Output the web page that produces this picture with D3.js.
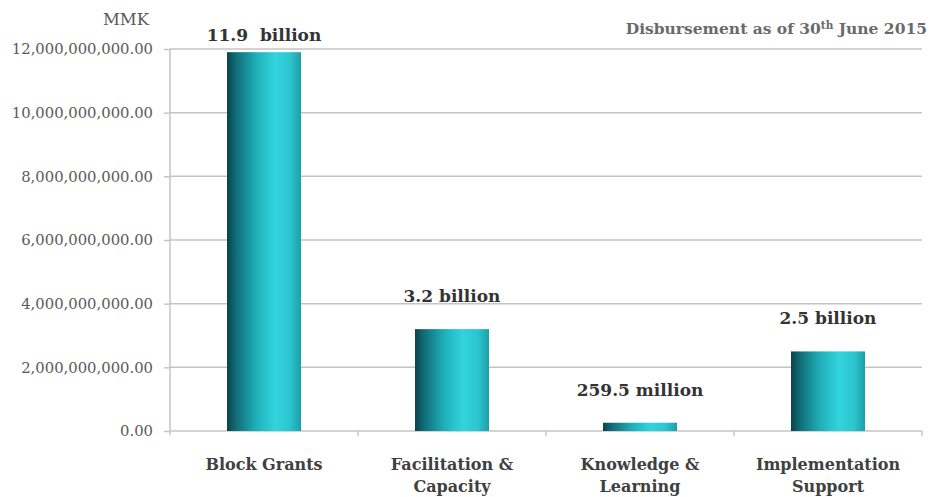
<!DOCTYPE html>
<html>
<head>
<meta charset="utf-8">
<script src="https://cdn.jsdelivr.net/npm/d3@7"></script>
<style>
  html, body { margin: 0; padding: 0; background: #fff; }
  svg { display: block; font-family: "DejaVu Serif", "Liberation Serif", serif; }
</style>
</head>
<body>
<svg id="chart" width="930" height="497"></svg>
<script>
// Disbursement by component (MMK)
const categories = [["Block Grants"], ["Facilitation &", "Capacity"], ["Knowledge &", "Learning"], ["Implementation", "Support"]];
const values = [11.9e9, 3.2e9, 259.5e6, 2.5e9];
const valueLabels = ["11.9  billion", "3.2 billion", "259.5 million", "2.5 billion"];
const yTicks = [0, 2e9, 4e9, 6e9, 8e9, 10e9, 12e9];

const svg = d3.select("#chart");
const plotLeft = 170, plotRight = 922, plotTop = 49, plotBottom = 431;

const keys = categories.map(c => c.join(" "));
const pad = 1 - 74 / 188;
const x = d3.scaleBand().domain(keys).range([plotLeft, plotRight]).paddingInner(pad).paddingOuter(pad / 2);
const y = d3.scaleLinear().domain([0, 12e9]).range([plotBottom, plotTop]);

// bar gradient: dark teal on the left, bright cyan toward the right
const defs = svg.append("defs");
const grad = defs.append("linearGradient").attr("id", "barGrad")
  .attr("x1", "0%").attr("x2", "100%").attr("y1", "0%").attr("y2", "0%");
[["0%", "#0a434b"], ["12%", "#116c76"], ["40%", "#1fb0ba"], ["65%", "#33d4dd"], ["85%", "#2bc5cf"], ["100%", "#1c9fa9"]]
  .forEach(([o, c]) => grad.append("stop").attr("offset", o).attr("stop-color", c));

// gridlines
svg.append("g").selectAll("line").data(yTicks).join("line")
  .attr("x1", plotLeft).attr("x2", plotRight)
  .attr("y1", d => y(d)).attr("y2", d => y(d))
  .attr("stroke", "#c4c4c4").attr("stroke-width", 1.5);

// y axis
const yAxis = svg.append("g").attr("transform", `translate(${plotLeft},0)`)
  .call(d3.axisLeft(y).tickValues(yTicks).tickSize(6).tickPadding(11)
    .tickFormat(d => d3.format(",.2f")(d)));
yAxis.select(".domain").attr("stroke", "#c4c4c4").attr("stroke-width", 1.5)
  .attr("d", `M0,${plotTop}V${plotBottom + 4}`);
yAxis.selectAll(".tick line").attr("stroke", "#c4c4c4").attr("stroke-width", 1.5);
yAxis.selectAll(".tick text").attr("fill", "#5a5a5a").attr("font-size", 14.8)
  .attr("font-family", "DejaVu Serif, serif");

// category boundary ticks on the base line
const bounds = keys.map(k => x(k) - x.step() * pad / 2).concat([plotRight]);
svg.append("g").selectAll("line").data(bounds.slice(1)).join("line")
  .attr("x1", d => d).attr("x2", d => d).attr("y1", plotBottom).attr("y2", plotBottom + 5)
  .attr("stroke", "#c4c4c4").attr("stroke-width", 1.5);

// bars
svg.append("g").selectAll("rect").data(values).join("rect")
  .attr("x", (d, i) => x(keys[i]))
  .attr("width", x.bandwidth())
  .attr("y", d => y(d))
  .attr("height", d => y(0) - y(d))
  .attr("fill", "url(#barGrad)");

// value labels
svg.append("g").selectAll("text").data(values).join("text")
  .attr("x", (d, i) => x(keys[i]) + x.bandwidth() / 2)
  .attr("y", d => Math.max(y(d) - 27, 41))
  .attr("text-anchor", "middle")
  .attr("font-weight", "bold").attr("font-size", 17).attr("fill", "#333")
  .style("white-space", "pre")
  .text((d, i) => valueLabels[i]);

// category labels
const cat = svg.append("g").selectAll("text").data(categories).join("text")
  .attr("x", (d, i) => x(keys[i]) + x.bandwidth() / 2)
  .attr("y", 470)
  .attr("text-anchor", "middle")
  .attr("font-weight", "bold").attr("font-size", 16).attr("fill", "#404040");
cat.selectAll("tspan").data(d => d).join("tspan")
  .attr("x", function () { return d3.select(this.parentNode).attr("x"); })
  .attr("dy", (d, i) => i === 0 ? 0 : 22)
  .text(d => d);

// unit label
svg.append("text").attr("x", 149).attr("y", 25).attr("text-anchor", "end")
  .attr("font-size", 16.5).attr("fill", "#5a5a5a").text("MMK");

// note at top right
const note = svg.append("text").attr("x", 927).attr("y", 34).attr("text-anchor", "end")
  .attr("font-weight", "bold").attr("font-size", 15.5).attr("fill", "#6a6a6a");
note.append("tspan").text("Disbursement as of 30");
note.append("tspan").attr("dy", -5.5).attr("font-size", 10.5).text("th");
note.append("tspan").attr("dy", 5.5).text(" June 2015");
</script>
</body>
</html>
